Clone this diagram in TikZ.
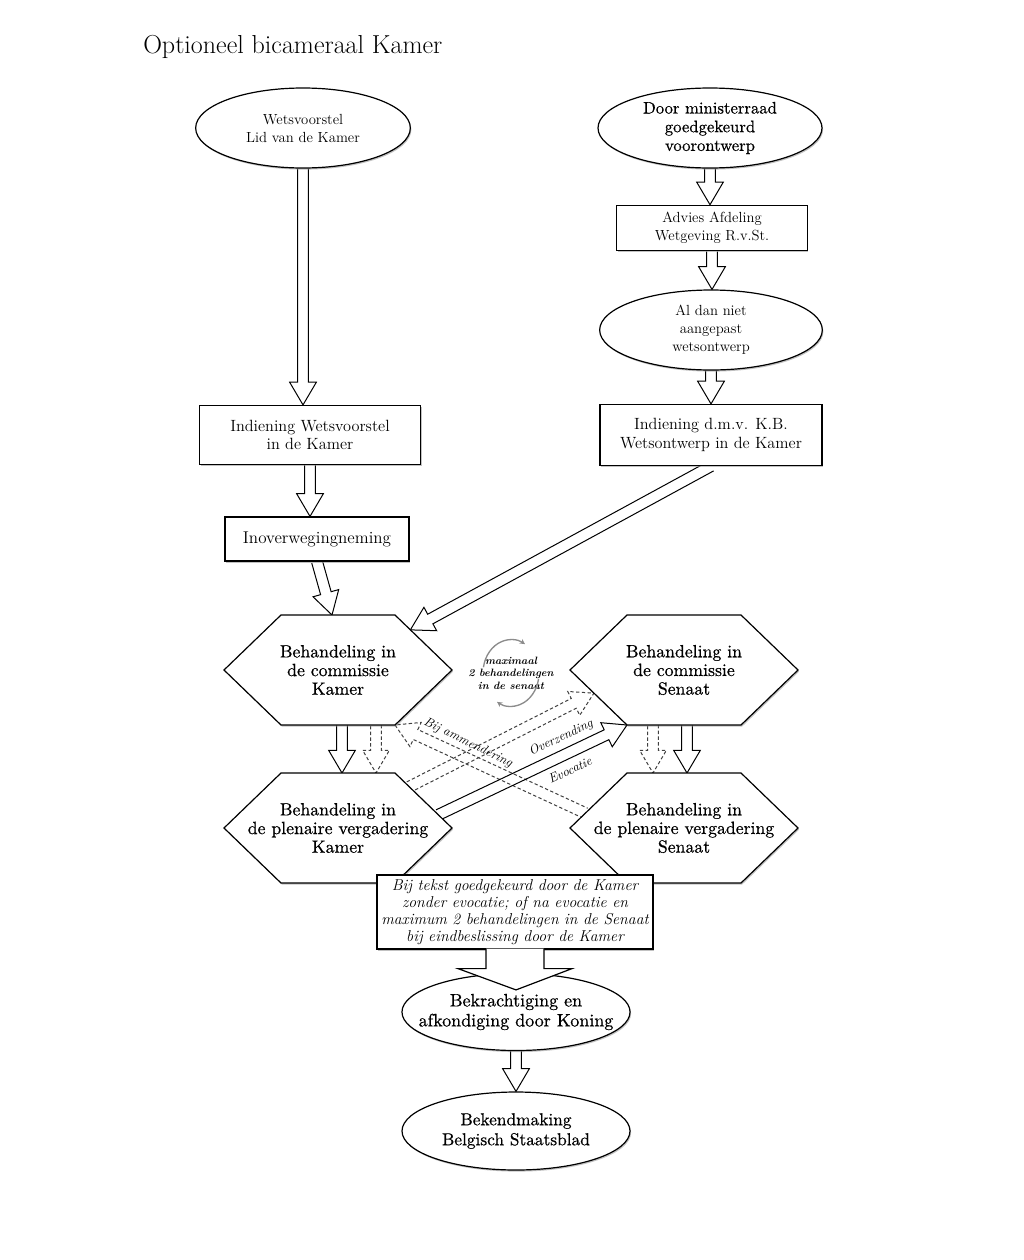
\documentclass[tikz,border=0pt]{standalone}
\usepackage{fontspec}
\newfontfamily\heavyfont{lmroman10-regular.otf}[FakeBold=0.6]
\usetikzlibrary{calc,shadows,arrows.meta,shapes.geometric}
\pgfdeclarelayer{paper}
\pgfdeclarelayer{bg}
\pgfsetlayers{paper,bg,main}
\def\hsw{4.1pt}
\def\hhw{10pt}
\def\hhl{17pt}
\tikzset{
 shp/.style={draw=black, line width=0.9pt, fill=white,
   drop shadow={shadow xshift=0.8pt, shadow yshift=-1.2pt, fill=black!40, opacity=0.6}},
 ell/.style={shp, ellipse, inner sep=0pt, align=center},
 box/.style={shp, rectangle, inner sep=0pt, align=center},
 small/.style={font=\fontsize{11}{13.5}\selectfont},
 mid/.style={font=\fontsize{12.2}{13.8}\selectfont},
 large/.style={font=\heavyfont\fontsize{12.5}{14}\selectfont},
 hextext/.style={rectangle, inner sep=0pt, align=center,
   font=\heavyfont\fontsize{13.3}{14}\selectfont},
 harrow/.style={draw=black, line width=0.75pt, line join=miter},
 dharrow/.style={harrow, draw=black!75, dash pattern=on 2.5pt off 1.8pt},
 lbl/.style={font=\fontsize{9.6}{11}\selectfont\itshape, inner sep=0pt},
 circarrow/.style={black!45, line width=1pt, -{Stealth[length=4pt,width=4pt]}},
}
\newcommand\harrow[3][harrow]{%
  \coordinate (ha-a) at (#2);
  \coordinate (ha-b) at (#3);
  \coordinate (ha-q) at ($(ha-b)!\hhl!(ha-a)$);
  \draw[#1] ($(ha-a)!\hsw!90:(ha-b)$) -- ($(ha-q)!\hsw!90:(ha-b)$) -- ($(ha-q)!\hhw!90:(ha-b)$) -- (ha-b) -- ($(ha-q)!\hhw!-90:(ha-b)$) -- ($(ha-q)!\hsw!-90:(ha-b)$) -- ($(ha-a)!\hsw!-90:(ha-b)$);
}
\newcommand\hexnode[4]{%
  \draw[shp] (#2-114,#3) -- (#2-57,#3-55) -- (#2+57,#3-55) -- (#2+114,#3) -- (#2+57,#3+55) -- (#2-57,#3+55) -- cycle;
  \node[hextext] (#1) at (#2,#3) {#4};
  \coordinate (#1-l) at (#2-114,#3);
  \coordinate (#1-tl) at (#2-57,#3-55);
  \coordinate (#1-t) at (#2,#3-55);
  \coordinate (#1-tr) at (#2+57,#3-55);
  \coordinate (#1-r) at (#2+114,#3);
  \coordinate (#1-br) at (#2+57,#3+55);
  \coordinate (#1-b) at (#2,#3+55);
  \coordinate (#1-bl) at (#2-57,#3+55);
}
\begin{document}
\begin{tikzpicture}[x=0.75pt,y=-0.75pt]
\begin{pgfonlayer}{paper}
\fill[white] (0,0) rectangle (1024,1260);
\end{pgfonlayer}
\useasboundingbox (0,0) rectangle (1024,1260);

\node[anchor=base west, inner sep=0pt, font=\fontsize{19.5}{22}\selectfont] (title) at (143,53) {Optioneel bicameraal Kamer};

\node[ell, small, minimum width=161pt, minimum height=60pt] (e1) at (303,128) {Wetsvoorstel\\Lid van de Kamer};
\node[ell, large, minimum width=168pt, minimum height=60pt] (e2) at (710,128) {Door ministerraad\\goedgekeurd\\voorontwerp};
\node[box, small, minimum width=143pt, minimum height=34pt] (r1) at (712,228) {Advies Afdeling\\Wetgeving R.v.St.};
\node[ell, small, minimum width=167pt, minimum height=60pt] (e3) at (711,330) {Al dan niet\\aangepast\\wetsontwerp};
\node[box, mid, minimum width=166.5pt, minimum height=45.75pt] (r3) at (711,435) {Indiening d.m.v. K.B.\\Wetsontwerp in de Kamer};
\node[box, mid, minimum width=165.75pt, minimum height=44.25pt] (r2) at (310,435) {Indiening Wetsvoorstel\\in de Kamer};
\node[box, font=\fontsize{12.8}{14}\selectfont, minimum width=138pt, minimum height=33pt] (r4) at (317,539) {Inoverwegingneming};

\hexnode{hk1}{338}{670}{Behandeling in\\de commissie\\Kamer}
\hexnode{hk2}{338}{828}{Behandeling in\\de plenaire vergadering\\Kamer}
\hexnode{hs1}{684}{670}{Behandeling in\\de commissie\\Senaat}
\hexnode{hs2}{684}{828}{Behandeling in\\de plenaire vergadering\\Senaat}

\node[ell, font=\heavyfont\fontsize{13.5}{15}\selectfont, inner xsep=-12.5pt, minimum width=169.5pt, minimum height=57.75pt] (e4) at (516,1012) {Bekrachtiging en\\afkondiging door Koning};
\node[ell, font=\heavyfont\fontsize{13}{15}\selectfont, minimum width=171pt, minimum height=58.5pt] (e5) at (516,1131) {Bekendmaking\\Belgisch Staatsblad};

\node[box, font=\fontsize{11.8}{12.6}\selectfont\itshape, minimum width=207pt, minimum height=55.5pt] (cb) at (515,912)
  {Bij tekst goedgekeurd door de Kamer\\zonder evocatie; of na evocatie en\\maximum 2 behandelingen in de Senaat\\bij eindbeslissing door de Kamer};
\coordinate (cbtip) at ($(e4.north)+(0,17)$);
\filldraw[draw=black, line width=0.9pt, fill=white, line join=miter]
  ($(cb.south)+(-29,-1)$) -- ($(cb.south)+(-29,19)$) -- ($(cb.south)+(-57,19)$) -- (cbtip)
  -- ($(cb.south)+(57,19)$) -- ($(cb.south)+(29,19)$) -- ($(cb.south)+(29,-1)$);

% labels on the crossing arrows
\node[lbl, rotate=-26] (lam) at (468,743) {Bij ammendering};
\node[lbl, rotate=25] (lov) at (561,738) {Overzending};
\node[lbl, rotate=25] (lev) at (570,770) {Evocatie};

% circular note
\node[font=\fontsize{8}{9.5}\selectfont\bfseries\itshape, align=center, inner sep=0pt] (cir) at (511,673) {maximaal\\2 behandelingen\\in de senaat};
\draw[circarrow] ([shift={(170:21pt and 25pt)}]cir.center) arc[start angle=170, end angle=60, x radius=21pt, y radius=25pt];
\draw[circarrow] ([shift={(-10:21pt and 25pt)}]cir.center) arc[start angle=-10, end angle=-120, x radius=21pt, y radius=25pt];

\begin{pgfonlayer}{bg}
\harrow{e1.south}{e1.south |- r2.north}
\harrow{e2.south}{e2.south |- r1.north}
\harrow{r1.south}{r1.south |- e3.north}
\harrow{e3.south}{e3.south |- r3.north}
\harrow{r2.south}{r2.south |- r4.north}
\harrow{r4.south}{$(hk1-t)+(-6,0)$}
\harrow{r3.south}{$(hk1-tr)!0.27!(hk1-r)$}
\harrow{$(hk1-b)+(4,0)$}{$(hk2-t)+(4,0)$}
\harrow[dharrow]{$(hk1-b)+(38,0)$}{$(hk2-t)+(38,0)$}
\harrow[dharrow]{$(hs1-b)+(-31,0)$}{$(hs2-t)+(-31,0)$}
\harrow{$(hs1-b)+(3,0)$}{$(hs2-t)+(3,0)$}
\harrow[dharrow]{$(hs2-tl)!0.73!(hs2-l)$}{hk1-br}
\harrow[dharrow]{$(hk2-tr)!0.25!(hk2-r)$}{$(hs1-l)!0.42!(hs1-bl)$}
\harrow{$(hk2-tr)!0.76!(hk2-r)$}{hs1-bl}
\harrow{e4.south}{e4.south |- e5.north}
\end{pgfonlayer}
\end{tikzpicture}
\end{document}
